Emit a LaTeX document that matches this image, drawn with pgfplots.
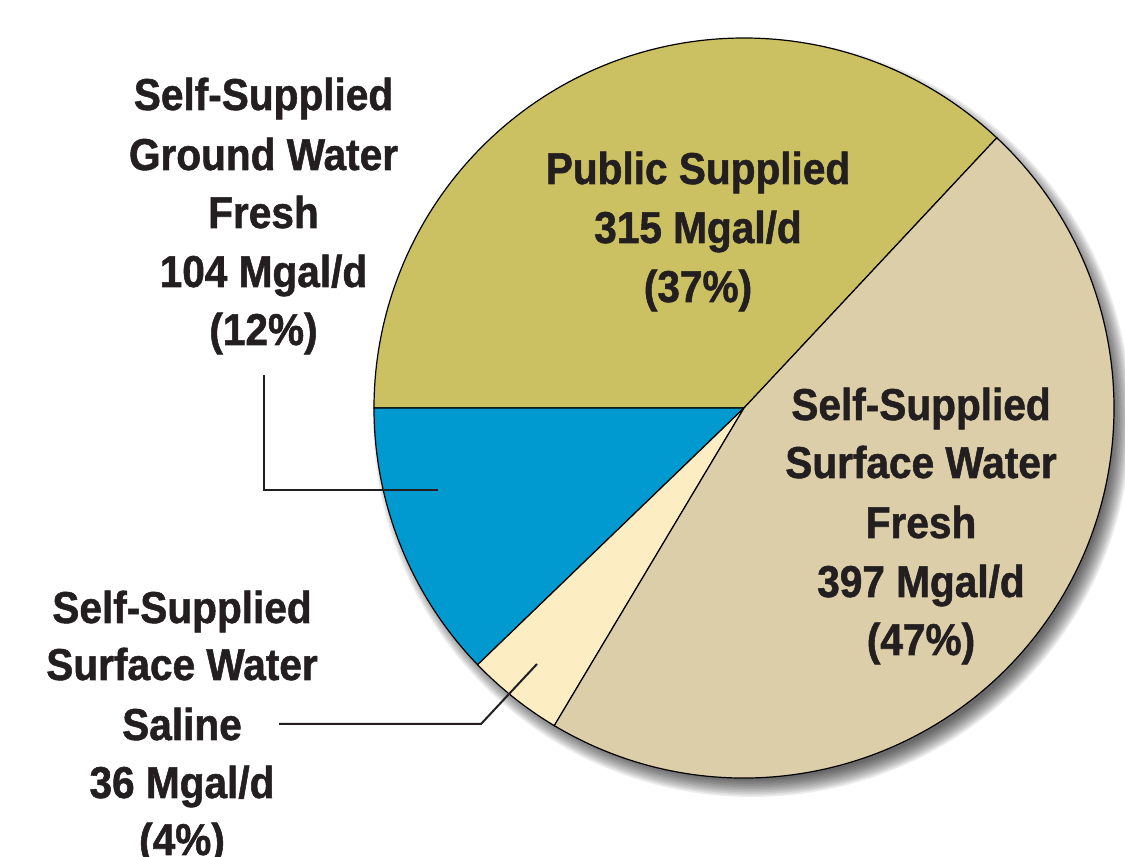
\documentclass[border=0pt]{standalone}
\usepackage{pgfplots}
\usepackage{pgfplotstable}
\pgfplotsset{compat=1.18}
\usepackage{fontspec}
\setmainfont{Liberation Sans}[FakeStretch=0.91, BoldFeatures={FakeBold=1.2}]
\definecolor{cPub}{RGB}{204,193,98}
\definecolor{cGW}{RGB}{0,154,209}
\definecolor{cSal}{RGB}{252,237,194}
\definecolor{cSW}{RGB}{221,206,170}
\definecolor{cTxt}{RGB}{35,31,32}

% category, value (Mgal/d), counterclockwise order starting with Public Supplied
\pgfplotstableread{
name value
Public 315
GroundFresh 104
SurfaceSaline 36
SurfaceFresh 397
}\piedata
\pgfplotstablegetelem{0}{value}\of\piedata \let\vA\pgfplotsretval
\pgfplotstablegetelem{1}{value}\of\piedata \let\vB\pgfplotsretval
\pgfplotstablegetelem{2}{value}\of\piedata \let\vC\pgfplotsretval
\pgfplotstablegetelem{3}{value}\of\piedata \let\vD\pgfplotsretval
\pgfmathsetmacro\tot{\vA+\vB+\vC+\vD}
\pgfmathsetmacro\aB{180}
\pgfmathsetmacro\aA{\aB-360*(\vA/\tot)}
\pgfmathsetmacro\aC{\aB+360*(\vB/\tot)}
\pgfmathsetmacro\aD{\aC+360*(\vC/\tot)}
\pgfmathsetmacro\aE{\aA+360}

\begin{document}
\begin{tikzpicture}
\begin{axis}[
  width=562.5pt, height=428.5pt, scale only axis,
  xmin=0, xmax=1125, ymin=0, ymax=857,
  hide axis, clip=false,
]
% soft shadow
\pgfplotsinvokeforeach{0,...,11}{
  \fill[black, fill opacity=0.07] (axis cs:752,439) circle[radius={185pt+4.5pt-#1*0.8pt}];
}
% wedges
\filldraw[fill=cPub, draw=black, line width=0.6pt] (axis cs:744,449) -- ++(\aA:185pt) arc[start angle=\aA, end angle=\aB, radius=185pt] -- cycle;
\filldraw[fill=cGW, draw=black, line width=0.6pt] (axis cs:744,449) -- ++(\aB:185pt) arc[start angle=\aB, end angle=\aC, radius=185pt] -- cycle;
\filldraw[fill=cSal, draw=black, line width=0.6pt] (axis cs:744,449) -- ++(\aC:185pt) arc[start angle=\aC, end angle=\aD, radius=185pt] -- cycle;
\filldraw[fill=cSW, draw=black, line width=0.6pt] (axis cs:744,449) -- ++(\aD:185pt) arc[start angle=\aD, end angle=\aE, radius=185pt] -- cycle;
% leader lines
\draw[cTxt, line width=1pt] (axis cs:264,482) -- (axis cs:264,367) -- (axis cs:438,367);
\draw[cTxt, line width=1pt] (axis cs:279,133) -- (axis cs:481,133) -- (axis cs:537,193);
% labels
\tikzset{lab/.style={anchor=base, inner sep=0pt, text=cTxt, font=\fontsize{22.3}{27}\selectfont\bfseries}}
\node[lab] at (axis cs:263.5,747) {Self-Supplied};
\node[lab] at (axis cs:263.5,687) {Ground Water};
\node[lab] at (axis cs:263.5,629) {Fresh};
\node[lab] at (axis cs:263.5,570) {104 Mgal/d};
\node[lab] at (axis cs:263.5,512) {(12\%)};
\node[lab] at (axis cs:698,673) {Public Supplied};
\node[lab] at (axis cs:698,614) {315 Mgal/d};
\node[lab] at (axis cs:698,555) {(37\%)};
\node[lab] at (axis cs:921,437) {Self-Supplied};
\node[lab] at (axis cs:921,379) {Surface Water};
\node[lab] at (axis cs:921,319) {Fresh};
\node[lab] at (axis cs:921,260) {397 Mgal/d};
\node[lab] at (axis cs:921,202) {(47\%)};
\node[lab] at (axis cs:182,234) {Self-Supplied};
\node[lab] at (axis cs:182,177) {Surface Water};
\node[lab] at (axis cs:182,117) {Saline};
\node[lab] at (axis cs:182,59) {36 Mgal/d};
\node[lab] at (axis cs:182,2) {(4\%)};
\end{axis}
\pgfresetboundingbox
\useasboundingbox (0,0) rectangle (562.5pt,428.5pt);
\end{tikzpicture}
\end{document}
